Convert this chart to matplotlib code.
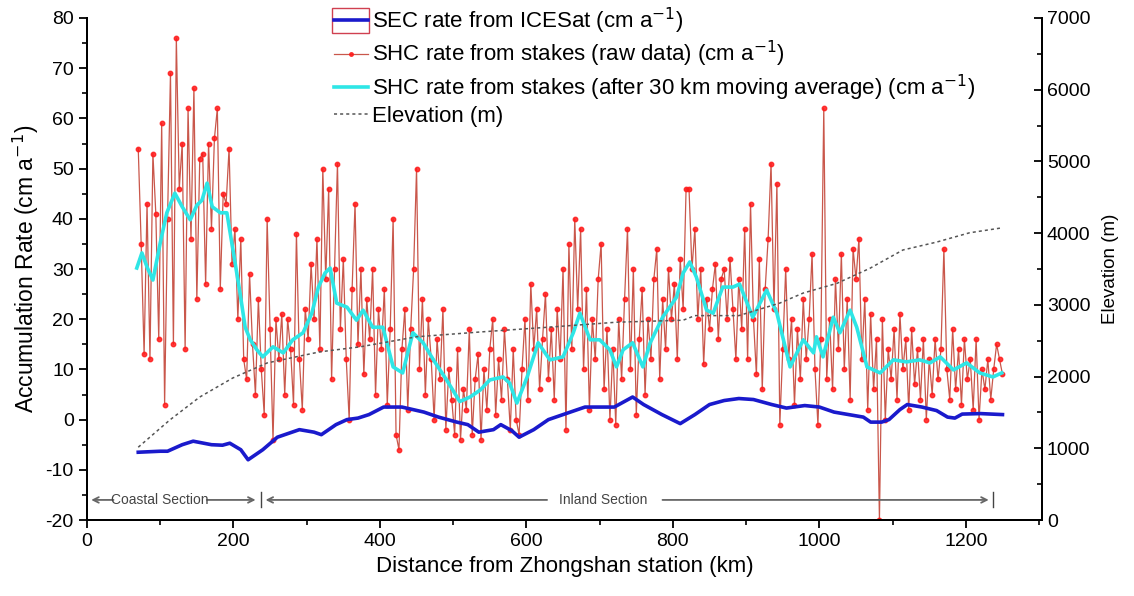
import numpy as np
import matplotlib
matplotlib.use("Agg")
import matplotlib.pyplot as plt
from matplotlib.patches import Rectangle

plt.rcParams['font.family'] = ['Liberation Sans', 'DejaVu Sans']

# --- data ---
# raw stake values, one every 4 km from 70 km to 1250 km
raw_km = np.arange(70, 1251, 4)
shc_raw = [
    54, 35, 13, 43, 12, 53, 41, 16, 59, 3, 40, 69, 15, 76, 46, 55, 14, 62, 36, 66, 24, 52, 53, 27, 55, 38, 56, 62, 26, 45,
    43, 54, 31, 38, 20, 36, 12, 8, 29, 15, 5, 24, 10, 1, 40, 18, -4, 20, 12, 21, 5, 20, 14, 3, 37, 12, 2, 22, 16, 31,
    20, 36, 14, 50, 28, 46, 8, 30, 51, 18, 32, 12, 0, 26, 43, 15, 30, 9, 24, 16, 30, 5, 22, 14, 26, 3, 18, 40, -3, -6,
    14, 22, 2, 18, 30, 50, 10, 24, 5, 20, 12, 0, 16, 8, 22, -2, 10, 4, -3, 14, -4, 6, 2, 18, -3, 8, 13, -4, 10, 2,
    14, 20, 1, 12, 4, 18, 8, -2, 14, 0, -3, 10, 20, 4, 27, 14, 22, 6, 16, 25, 8, 18, 4, 22, 12, 30, -2, 35, 14, 40,
    22, 38, 10, 26, 2, 20, 12, 28, 35, 6, 18, 0, 14, -1, 20, 8, 24, 38, 10, 30, 1, 16, 26, 5, 20, 12, 28, 34, 8, 24,
    14, 30, 20, 27, 12, 32, 22, 46, 46, 30, 38, 20, 30, 11, 24, 18, 26, 31, 16, 28, 30, 20, 32, 22, 12, 28, 18, 38, 12, 43,
    20, 9, 32, 6, 26, 36, 51, 22, 47, -1, 14, 30, 12, 20, 3, 18, 8, 24, 12, 20, 33, 10, -1, 16, 62, 8, 20, 6, 28, 14,
    33, 10, 24, 4, 34, 28, 36, 12, 24, 2, 21, 6, 16, -20, 20, 0, 14, 8, 18, 4, 21, 10, 16, 2, 18, 7, 14, 4, 16, 0,
    12, 5, 16, 8, 14, 34, 10, 4, 18, 6, 14, 3, 16, 8, 12, 2, 16, 0, 10, 6, 12, 4, 10, 15, 12, 9,
]

# 30 km moving average (as drawn)
avg_km = [68, 75, 82, 90, 100, 109, 120, 130, 141, 150, 157, 164, 171, 182, 191, 200, 209, 216, 223, 232,
          240, 254, 268, 281, 295, 307, 316, 325, 332, 341, 355, 368, 377, 390, 404, 418, 431, 445, 459, 473,
          491, 509, 523, 537, 550, 568, 577, 587, 601, 616, 632, 650, 664, 673, 687, 700, 714, 723, 732, 745,
          759, 769, 786, 805, 814, 823, 832, 846, 855, 868, 882, 891, 909, 928, 942, 960, 978, 992, 996, 1005,
          1019, 1028, 1042, 1051, 1065, 1083, 1101, 1119, 1137, 1151, 1165, 1183, 1201, 1219, 1237, 1249]
shc_avg = [30.2, 33.2, 30.4, 27.8, 35.2, 41.2, 45.1, 42.4, 39.8, 42.7, 43.7, 47.1, 42.4, 41.2, 41.2, 33.2, 25.2, 18.4, 15.9, 13.9,
           12.5, 14.5, 13.3, 15.9, 17.3, 21.2, 26.4, 29.2, 30.2, 23.2, 22.4, 19.8, 21.8, 18.4, 18.4, 10.5, 9.3, 17.3, 15.3, 11.9,
           7.9, 3.6, 4.5, 5.9, 7.9, 8.5, 7.3, 3.3, 8.5, 15.3, 11.9, 12.5, 17.3, 21.2, 15.9, 15.9, 13.9, 10.5, 13.9, 15.3,
           10.5, 15.3, 20.4, 24.4, 29.2, 31.4, 28.4, 21.8, 21.2, 26.4, 26.4, 27.0, 20.4, 25.8, 21.2, 10.5, 15.9, 13.3, 16.5, 12.5,
           20.4, 17.3, 21.8, 18.4, 10.5, 9.3, 11.9, 11.5, 11.9, 11.3, 12.5, 9.9, 11.3, 9.3, 8.5, 9.3]

# SEC rate from ICESat
sec_km = [70, 100, 110, 130, 145, 170, 185, 195, 210, 220, 240, 260, 290, 310, 320, 340, 355, 370, 385, 405,
          430, 460, 480, 505, 520, 535, 555, 565, 580, 590, 610, 630, 660, 680, 700, 720, 745, 760, 785, 810,
          830, 850, 870, 890, 910, 935, 955, 980, 1000, 1020, 1040, 1060, 1070, 1085, 1095, 1110, 1120, 1140, 1160, 1175,
          1185, 1195, 1220, 1250]
sec_rate = [-6.5, -6.3, -6.3, -5.0, -4.3, -5.0, -5.1, -4.7, -6.0, -8.0, -6.0, -3.5, -2.0, -2.5, -3.0, -1.0, 0.0, 0.3, 1.0, 2.5,
            2.5, 1.5, 0.5, -0.5, -1.0, -2.5, -2.0, -1.0, -2.2, -3.5, -2.0, 0.0, 1.5, 2.5, 2.5, 2.5, 4.5, 3.0, 1.0, -0.8,
            1.0, 3.0, 3.8, 4.2, 4.0, 3.0, 2.3, 2.8, 2.5, 1.5, 1.0, 0.5, -0.5, -0.5, 0.0, 2.0, 3.0, 2.5, 1.8, 0.5,
            0.3, 1.1, 1.2, 1.0]

# surface elevation (m)
elev_km = [70, 113, 154, 199, 246, 318, 373, 450, 541, 632, 723, 814, 830, 890, 946, 978, 1024, 1069, 1114, 1160, 1205, 1250]
elev_m = [1015, 1394, 1715, 1980, 2190, 2345, 2415, 2555, 2625, 2690, 2758, 2786, 2850, 2850, 3025, 3165, 3300, 3510, 3765, 3875, 4005, 4075]

fig = plt.figure(figsize=(11.34, 5.96), dpi=100)
ax = fig.add_axes([0.0767, 0.1275, 0.8422, 0.8423])
ax2 = ax.twinx()

raw_line, = ax.plot(raw_km, shc_raw, color='#c0392b', lw=0.9, alpha=0.85, marker='o', markersize=3.2,
                    markerfacecolor='#ff1a1a', markeredgecolor='#ff1a1a', zorder=2)
sec_line, = ax.plot(sec_km, sec_rate, color='#1a1acc', lw=2.6, zorder=3)
avg_line, = ax.plot(avg_km, shc_avg, color='#2ee6e6', lw=2.6, zorder=4)
elev_line, = ax2.plot(elev_km, elev_m, color='#555555', lw=1.1, linestyle=(0, (2, 2)))

ax.set_xlim(0, 1304)
ax.set_ylim(-20, 80)
ax2.set_ylim(0, 7000)

ax.set_xticks(np.arange(0, 1201, 200))
ax.set_xticks(np.arange(100, 1301, 200), minor=True)
ax.set_yticks(np.arange(-20, 81, 10))
ax.set_yticks(np.arange(-15, 80, 10), minor=True)
ax.set_yticklabels([str(v) for v in range(-20, 81, 10)])
ax2.set_yticks(np.arange(0, 7001, 1000))
ax2.set_yticks(np.arange(500, 7000, 1000), minor=True)

ax.tick_params(axis='both', which='major', direction='out', length=6, width=1.3, labelsize=14)
ax.tick_params(axis='both', which='minor', direction='out', length=3.5, width=1.2)
ax2.tick_params(axis='y', which='major', direction='in', length=6, width=1.3, labelsize=14)
ax2.tick_params(axis='y', which='minor', direction='in', length=3.5, width=1.2)

for a in (ax, ax2):
    a.spines['top'].set_visible(False)
    for s in ('left', 'right', 'bottom'):
        a.spines[s].set_linewidth(1.4)

ax.set_xlabel('Distance from Zhongshan station (km)', fontsize=16)
ax.set_ylabel('Accumulation Rate (cm a$^{-1}$)', fontsize=16.5, labelpad=3)
ax2.set_ylabel('Elevation (m)', fontsize=13.5, labelpad=8)

# section markers
sec_y = -16
arrow = dict(arrowstyle='->', color='#666666', lw=1.3)
ax.annotate('', xy=(2, sec_y), xytext=(40, sec_y), arrowprops=arrow)
ax.annotate('', xy=(234, sec_y), xytext=(160, sec_y), arrowprops=arrow)
ax.annotate('', xy=(240, sec_y), xytext=(632, sec_y), arrowprops=arrow)
ax.annotate('', xy=(1235, sec_y), xytext=(782, sec_y), arrowprops=arrow)
ax.plot([237, 237], [sec_y - 1.5, sec_y + 1.5], color='#444444', lw=1)
ax.plot([1237, 1237], [sec_y - 1.5, sec_y + 1.5], color='#444444', lw=1)
ax.text(100, sec_y, 'Coastal Section', fontsize=10, color='#444444', ha='center', va='center')
ax.text(705, sec_y, 'Inland Section', fontsize=10, color='#444444', ha='center', va='center')

labels = ['SEC rate from ICESat (cm a$^{-1}$)',
          'SHC rate from stakes (raw data) (cm a$^{-1}$)',
          'SHC rate from stakes (after 30 km moving average) (cm a$^{-1}$)',
          'Elevation (m)']
fig.legend([sec_line, raw_line, avg_line, elev_line], labels, loc='upper left',
           bbox_to_anchor=(318 / 1134, 1 + 10 / 596), frameon=False, fontsize=16,
           handlelength=1.55, handletextpad=0.2, labelspacing=0.15, borderpad=0.2,
           markerscale=0.8)
fig.patches.append(Rectangle((332 / 1134, 1 - 33 / 596), 37 / 1134, 25 / 596,
                             transform=fig.transFigure, fill=False, edgecolor='#d04050', lw=1))

fig.savefig('out.png', dpi=100)
